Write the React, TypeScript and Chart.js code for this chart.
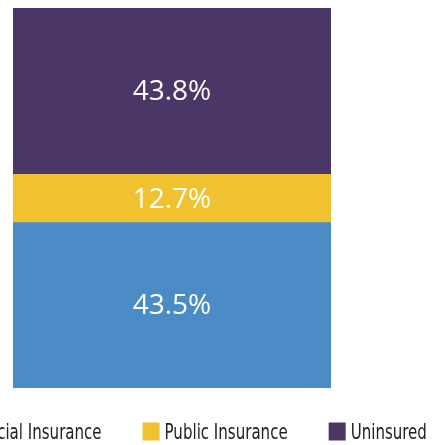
import React, { useEffect, useRef } from "react";
import { Chart, registerables } from "chart.js";

Chart.register(...registerables);

const categories = ["Coverage"];
const seriesLabels = ["Commercial Insurance", "Public Insurance", "Uninsured"];
const commercialValues = [43.5];
const publicValues = [12.7];
const uninsuredValues = [43.8];
const seriesColors = ["#4b8cc6", "#f1c230", "#4a3768"];

const valueLabelPlugin = {
  id: "valueLabels",
  afterDatasetsDraw(chart: any) {
    const ctx = chart.ctx;
    ctx.save();
    ctx.fillStyle = "#ffffff";
    ctx.font = "28px 'Open Sans', 'Noto Sans', sans-serif";
    ctx.textAlign = "center";
    ctx.textBaseline = "middle";
    chart.data.datasets.forEach((ds: any, i: number) => {
      const meta = chart.getDatasetMeta(i);
      meta.data.forEach((bar: any, j: number) => {
        const v = ds.data[j];
        const cy = (bar.y + bar.base) / 2;
        ctx.fillText(v.toFixed(1) + "%", bar.x, cy + 1);
      });
    });
    ctx.restore();
  },
};

const legendPlugin = {
  id: "customLegend",
  afterDraw(chart: any) {
    const ctx = chart.ctx;
    const area = chart.chartArea;
    const box = 17;
    const boxGap = 5;
    const itemGap = 41;
    const squeeze = 0.76;
    const cy = 432;
    ctx.save();
    ctx.font = "22px 'DejaVu Sans Condensed', sans-serif";
    ctx.textBaseline = "middle";
    ctx.textAlign = "left";
    const items = chart.data.datasets.map((ds: any) => {
      const tw = ctx.measureText(ds.label).width * squeeze;
      return { label: ds.label, color: ds.backgroundColor, tw, w: box + boxGap + tw };
    });
    const total = items.reduce((s: number, it: any) => s + it.w, 0) + itemGap * (items.length - 1);
    let x = (area.left + area.right) / 2 - total / 2 - 3;
    items.forEach((it: any) => {
      ctx.fillStyle = it.color;
      ctx.fillRect(x, cy - box / 2 - 1, box, box + 1);
      ctx.fillStyle = "#222222";
      ctx.save();
      ctx.translate(x + box + boxGap, cy + 1);
      ctx.scale(squeeze, 1);
      ctx.fillText(it.label, 0, 0);
      ctx.restore();
      x += it.w + itemGap;
    });
    ctx.restore();
  },
};

export default function App() {
  const ref = useRef<HTMLCanvasElement | null>(null);
  useEffect(() => {
    if (!ref.current) return;
    const chart = new Chart(ref.current, {
      type: "bar",
      data: {
        labels: categories,
        datasets: [
          { label: seriesLabels[0], data: commercialValues, backgroundColor: seriesColors[0] },
          { label: seriesLabels[1], data: publicValues, backgroundColor: seriesColors[1] },
          { label: seriesLabels[2], data: uninsuredValues, backgroundColor: seriesColors[2] },
        ],
      },
      options: {
        animation: false,
        responsive: false,
        maintainAspectRatio: false,
        layout: { padding: { left: 13, right: 105, top: 8, bottom: 57 } },
        datasets: { bar: { barPercentage: 1, categoryPercentage: 1, borderWidth: 0 } },
        scales: {
          x: { stacked: true, display: false },
          y: { stacked: true, display: false, min: 0, max: 100 },
        },
        plugins: { legend: { display: false }, tooltip: { enabled: false } },
      },
      plugins: [valueLabelPlugin, legendPlugin],
    });
    return () => chart.destroy();
  }, []);
  return (
    <div style={{ position: "absolute", left: 0, top: 0, width: 436, height: 445, background: "#fff" }}>
      <canvas ref={ref} width={436} height={445} style={{ display: "block", width: 436, height: 445 }} />
    </div>
  );
}
